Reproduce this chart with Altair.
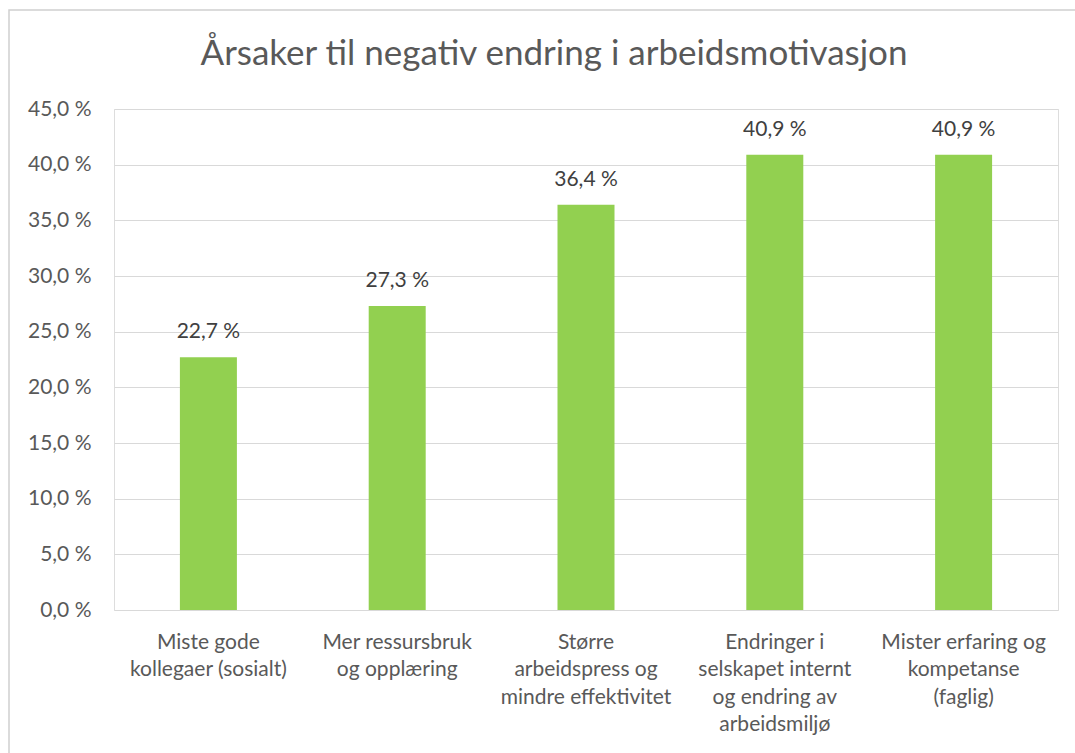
import altair as alt
import pandas as pd

TITLE = "Årsaker til negativ endring i arbeidsmotivasjon"
categories = [
    "Miste gode|kollegaer (sosialt)",
    "Mer ressursbruk|og opplæring",
    "Større|arbeidspress og|mindre effektivitet",
    "Endringer i|selskapet internt|og endring av|arbeidsmiljø",
    "Mister erfaring og|kompetanse|(faglig)",
]
values = [22.7, 27.3, 36.4, 40.9, 40.9]
y_ticks = [0, 5, 10, 15, 20, 25, 30, 35, 40, 45]

df = pd.DataFrame({"cat": categories, "val": values})

FONT = "Lato"
GRAY = "#595959"

base = alt.Chart(df).encode(
    x=alt.X(
        "cat:N",
        sort=None,
        scale=alt.Scale(paddingInner=0, paddingOuter=0),
        axis=alt.Axis(
            title=None,
            labelAngle=0,
            labelExpr="split(datum.label, '|')",
            labelFont=FONT,
            labelFontSize=21,
            labelColor=GRAY,
            labelLineHeight=27.5,
            labelPadding=21,
            labelBaseline="top",
            domain=False,
            ticks=False,
            labelLimit=300,
        ),
    ),
    y=alt.Y(
        "val:Q",
        scale=alt.Scale(domain=[0, 45], nice=False),
        axis=alt.Axis(
            title=None,
            values=y_ticks,
            labelExpr="replace(format(datum.value, '.1f'), '.', ',') + ' %'",
            labelFont=FONT,
            labelFontSize=21,
            labelColor=GRAY,
            labelPadding=23,
            domain=False,
            ticks=False,
            gridColor="#d9d9d9",
            gridWidth=1.2,
        ),
    ),
)

bars = base.mark_bar(color="#92D050", size=57)

labels = base.transform_calculate(
    lbl="replace(format(datum.val, '.1f'), '.', ',') + ' %'"
).mark_text(
    font=FONT, fontSize=21, color="#404040", baseline="alphabetic", dy=-19
).encode(text="lbl:N")

title = alt.Chart(pd.DataFrame({"t": [TITLE]})).mark_text(
    font=FONT, fontSize=35, color=GRAY, baseline="alphabetic", align="center"
).encode(text="t:N", x=alt.value(440), y=alt.value(-44))

border = alt.Chart(pd.DataFrame({"b": [0]})).mark_rect(
    fill="transparent", stroke="#d0d0d0", strokeWidth=1.5
).encode(x=alt.value(-105), x2=alt.value(975), y=alt.value(-99), y2=alt.value(660))

chart = alt.layer(border, bars, labels, title).properties(
    width=944,
    height=501,
    autosize=alt.AutoSizeParams(type="none"),
    padding={"left": 114, "top": 109, "right": 17, "bottom": 143},
).configure_view(stroke=None).configure(background="white")

chart.save("out.html", embed_options={"renderer": "svg", "actions": False})
